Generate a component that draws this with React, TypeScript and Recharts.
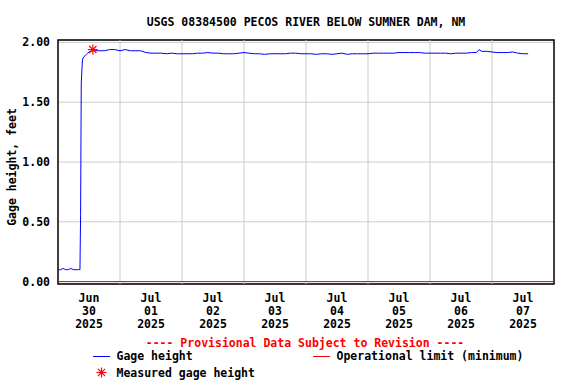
import React from "react";
import {
  CartesianGrid,
  ComposedChart,
  Line,
  ReferenceArea,
  ReferenceLine,
  Scatter,
  XAxis,
  YAxis,
} from "recharts";

const TITLE = "USGS 08384500 PECOS RIVER BELOW SUMNER DAM, NM";
const NOTE = "---- Provisional Data Subject to Revision ----";

// tick labels, one per day (placed at noon)
const DAY_LABELS = [
  ["Jun", "30", "2025"],
  ["Jul", "01", "2025"],
  ["Jul", "02", "2025"],
  ["Jul", "03", "2025"],
  ["Jul", "04", "2025"],
  ["Jul", "05", "2025"],
  ["Jul", "06", "2025"],
  ["Jul", "07", "2025"],
];
const NOON_TICKS = [12, 36, 60, 84, 108, 132, 156, 180];
const MIDNIGHTS = [24, 48, 72, 96, 120, 144, 168];
const Y_TICKS = [0, 0.5, 1, 1.5, 2];

// hours since Jun 30 00:00
const HOURS = [
  0, 1, 2, 3, 4, 5, 6, 7, 8, 8.5, 8.75, 9, 9.25, 9.5, 10, 10.5, 11, 11.5, 12, 13,
  14, 16, 18, 20, 22, 24, 26, 28, 30, 32, 34, 36, 38, 40, 42, 44, 46, 48, 50, 52,
  54, 56, 58, 60, 62, 64, 66, 68, 70, 72, 74, 76, 78, 80, 82, 84, 86, 88, 90, 92,
  94, 96, 98, 100, 102, 104, 106, 108, 110, 112, 114, 116, 118, 120, 122, 124,
  126, 128, 130, 132, 134, 136, 138, 140, 142, 144, 146, 148, 150, 152, 154, 156,
  158, 160, 162, 163, 164, 166, 168, 170, 172, 174, 176, 178, 180, 182,
];
const GAGE_FT = [
  0.1, 0.1, 0.11, 0.1, 0.1, 0.11, 0.1, 0.1, 0.1, 0.1, 0.56, 1.66, 1.77, 1.86, 1.88, 1.89, 1.9, 1.91, 1.92, 1.93,
  1.93, 1.93, 1.93, 1.94, 1.94, 1.93, 1.94, 1.93, 1.93, 1.93, 1.915, 1.91, 1.91, 1.91, 1.905, 1.91, 1.905, 1.905, 1.905, 1.905,
  1.91, 1.91, 1.915, 1.91, 1.91, 1.905, 1.905, 1.905, 1.91, 1.915, 1.91, 1.905, 1.905, 1.9, 1.905, 1.905, 1.905, 1.905, 1.91, 1.91,
  1.905, 1.905, 1.905, 1.9, 1.905, 1.905, 1.9, 1.905, 1.91, 1.9, 1.905, 1.905, 1.905, 1.905, 1.91, 1.91,
  1.91, 1.91, 1.91, 1.915, 1.915, 1.915, 1.915, 1.915, 1.91, 1.91, 1.91, 1.91, 1.91, 1.905, 1.91, 1.91,
  1.91, 1.915, 1.915, 1.94, 1.925, 1.925, 1.92, 1.915, 1.915, 1.915, 1.92, 1.91, 1.905, 1.905,
];

const MEASURED_HOURS = [13.5];
const MEASURED_FT = [1.94];
const OPERATIONAL_LIMIT_FT = 0;

const FONT = "'DejaVu Sans Mono', 'Liberation Mono', monospace";
const BLUE = "#0000ff";
const RED = "#ff0000";

const gageData = HOURS.map((h, i) => ({ h, ft: GAGE_FT[i] }));
const measuredData = MEASURED_HOURS.map((h, i) => ({ h, meas: MEASURED_FT[i] }));

function DayTick(props: any) {
  const { x, y, payload } = props;
  const idx = NOON_TICKS.indexOf(payload.value);
  const lines = DAY_LABELS[idx] || [];
  return (
    <text x={x} y={y} textAnchor="middle" fontFamily={FONT} fontSize={11.5} fontWeight="bold" fill="#000">
      {lines.map((l, i) => (
        <tspan key={i} x={x} y={y + 10 + i * 12.8}>
          {l}
        </tspan>
      ))}
    </text>
  );
}

function Asterisk(props: any) {
  const { cx, cy } = props;
  const r = 5;
  const d = 3.6;
  return (
    <g stroke={RED} strokeWidth={1.2}>
      <line x1={cx - r} y1={cy} x2={cx + r} y2={cy} />
      <line x1={cx} y1={cy - r} x2={cx} y2={cy + r} />
      <line x1={cx - d} y1={cy - d} x2={cx + d} y2={cy + d} />
      <line x1={cx - d} y1={cy + d} x2={cx + d} y2={cy - d} />
    </g>
  );
}

export default function App() {
  const txt = { fontFamily: FONT, fontSize: 11.5, fontWeight: "bold" as const };
  return (
    <div style={{ position: "absolute", left: 0, top: 0, width: 576, height: 384, background: "#fff" }}>
      <ComposedChart
        width={576}
        height={384}
        data={gageData}
        margin={{ top: 40, right: 22, bottom: 40, left: 0 }}
      >
        <CartesianGrid vertical={false} stroke="#cccccc" strokeDasharray="" />
        {MIDNIGHTS.map((m) => (
          <ReferenceLine key={m} x={m} stroke="#cccccc" />
        ))}
        <XAxis
          dataKey="h"
          type="number"
          domain={[0, 192]}
          ticks={NOON_TICKS}
          tick={<DayTick />}
          tickLine={false}
          axisLine={false}
          height={60}
          interval={0}
        />
        <YAxis
          type="number"
          domain={[-0.02, 2.02]}
          ticks={Y_TICKS}
          tickFormatter={(v: number) => v.toFixed(2)}
          tick={{ ...txt, fill: "#000" }}
          tickLine={false}
          axisLine={false}
          width={58}
          interval={0}
        />
        <ReferenceLine y={OPERATIONAL_LIMIT_FT} stroke={RED} strokeWidth={1} />
        <Line
          dataKey="ft"
          stroke={BLUE}
          strokeWidth={1}
          dot={false}
          type="linear"
          isAnimationActive={false}
        />
        <Scatter data={measuredData} dataKey="meas" shape={<Asterisk />} isAnimationActive={false} />
        <ReferenceArea x1={0} x2={192} y1={-0.02} y2={2.02} fill="none" stroke="#000" strokeWidth={1.5} />
      </ComposedChart>
      <svg
        width={576}
        height={384}
        style={{ position: "absolute", left: 0, top: 0, pointerEvents: "none" }}
      >
        <text x={306} y={25.5} textAnchor="middle" {...txt} fill="#000">
          {TITLE}
        </text>
        <text x={12} y={167} textAnchor="middle" {...txt} fill="#000" transform="rotate(-90 12 167)" dy="0.35em">
          Gage height, feet
        </text>
        <text x={305} y={346.5} textAnchor="middle" {...txt} fill={RED}>
          {NOTE}
        </text>
        <line x1={93} y1={356.5} x2={110} y2={356.5} stroke={BLUE} strokeWidth={1} />
        <text x={116.5} y={360.3} {...txt} fill="#000">
          Gage height
        </text>
        <line x1={313} y1={356.5} x2={330} y2={356.5} stroke={RED} strokeWidth={1} />
        <text x={336.5} y={360.3} {...txt} fill="#000">
          Operational limit (minimum)
        </text>
        <Asterisk cx={101.5} cy={372.5} />
        <text x={116.5} y={376.5} {...txt} fill="#000">
          Measured gage height
        </text>
      </svg>
    </div>
  );
}
